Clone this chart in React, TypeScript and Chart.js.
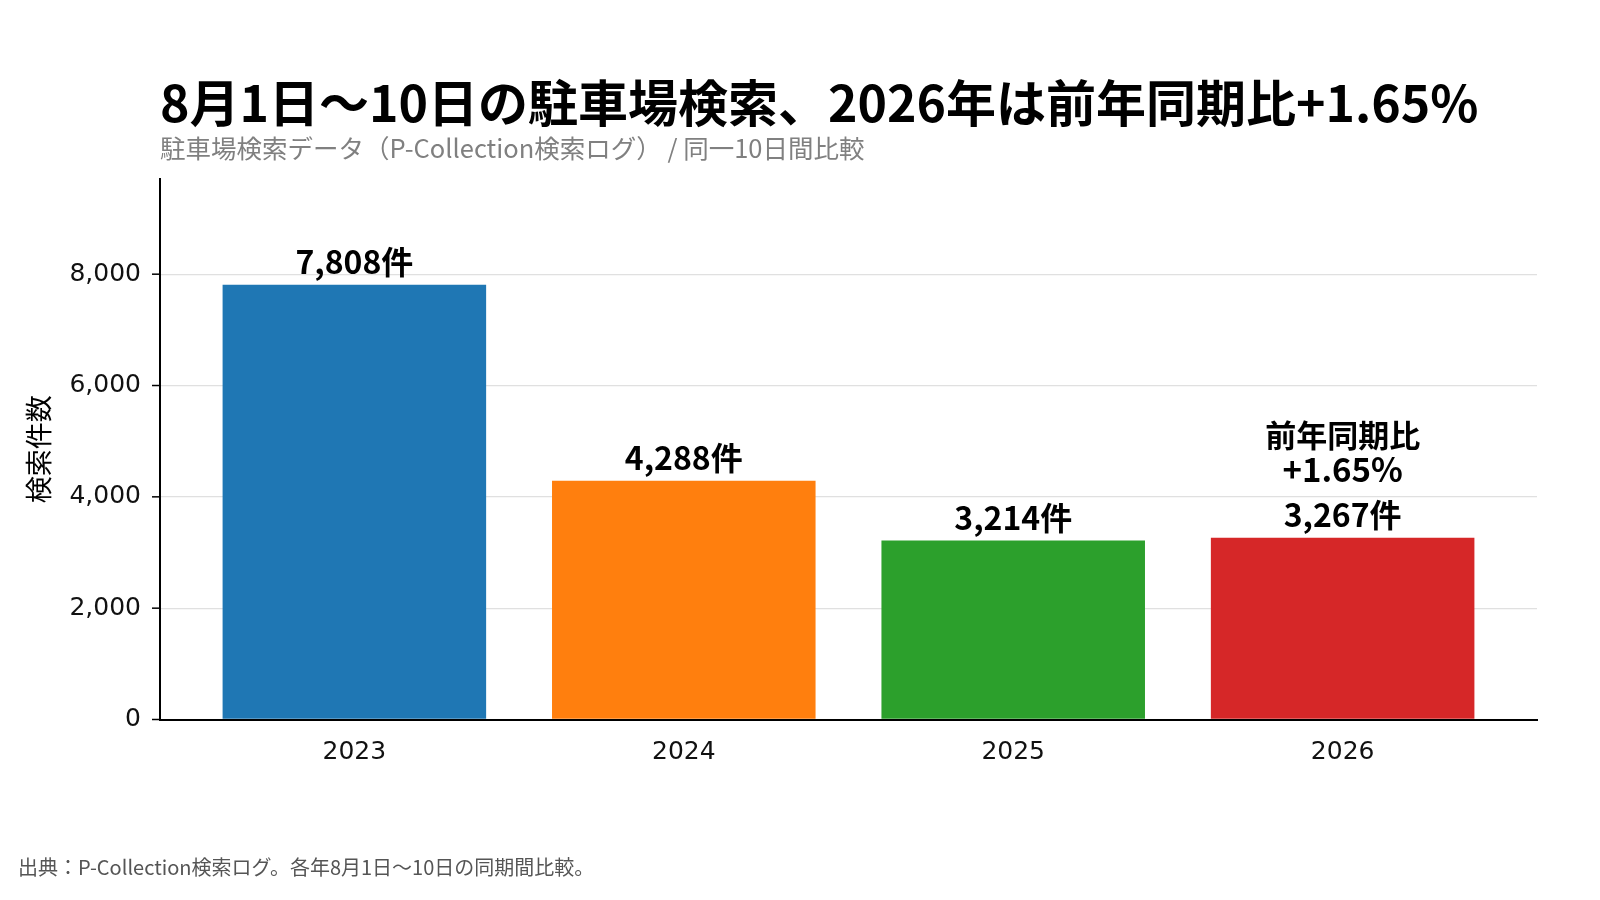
import React, { useEffect, useRef } from "react";
import { Chart, registerables } from "chart.js";

Chart.register(...registerables);

const years = ["2023", "2024", "2025", "2026"];
const searchCounts = [7808, 4288, 3214, 3267];
const barColors = ["#1f77b4", "#ff7f0e", "#2ca02c", "#d62728"];
const yTicks = [0, 2000, 4000, 6000, 8000];
const yMax = 9710;

const titleText = "8月1日〜10日の駐車場検索、2026年は前年同期比+1.65%";
const subtitleText = "駐車場検索データ（P-Collection検索ログ） / 同一10日間比較";
const footerText = "出典：P-Collection検索ログ。各年8月1日〜10日の同期間比較。";
const yAxisTitle = "検索件数";
const annotationLabel = "前年同期比";

const JP = '"Noto Sans CJK JP", "Noto Sans", sans-serif';
const NUM = '"DejaVu Sans", sans-serif';

const textPlugin = {
  id: "textPlugin",
  afterDatasetsDraw(chart: any) {
    const ctx = chart.ctx;
    const meta = chart.getDatasetMeta(0);
    ctx.save();
    ctx.fillStyle = "#000";
    ctx.textAlign = "center";
    ctx.textBaseline = "alphabetic";
    ctx.font = `700 32px ${JP}`;
    meta.data.forEach((bar: any, i: number) => {
      const v = searchCounts[i];
      ctx.fillText(v.toLocaleString("en-US") + "件", bar.x, bar.y - 11);
    });
    const last = searchCounts.length - 1;
    const lastBar = meta.data[last];
    const pct = (searchCounts[last] / searchCounts[last - 1] - 1) * 100;
    ctx.font = `700 31px ${JP}`;
    ctx.fillText(annotationLabel, lastBar.x, lastBar.y - 91);
    ctx.font = `700 33px ${JP}`;
    ctx.fillText((pct >= 0 ? "+" : "") + pct.toFixed(2) + "%", lastBar.x, lastBar.y - 56);
    ctx.restore();
  },
  afterDraw(chart: any) {
    const ctx = chart.ctx;
    ctx.save();
    ctx.textAlign = "left";
    ctx.textBaseline = "alphabetic";
    ctx.fillStyle = "#000";
    ctx.font = `700 50px ${JP}`;
    ctx.fillText(titleText, 160, 122);
    ctx.fillStyle = "#808080";
    ctx.font = `400 25.5px ${JP}`;
    ctx.fillText(subtitleText, 160, 158);
    ctx.fillStyle = "#555555";
    ctx.font = `400 20px ${JP}`;
    ctx.fillText(footerText, 18, 875);
    ctx.restore();
  },
};

export default function App() {
  const ref = useRef<HTMLCanvasElement | null>(null);
  useEffect(() => {
    if (!ref.current) return;
    const chart = new Chart(ref.current, {
      type: "bar",
      data: {
        datasets: [
          {
            data: searchCounts.map((v, i) => ({ x: i, y: v })),
            backgroundColor: barColors,
            borderWidth: 0,
            barPercentage: 0.8,
            categoryPercentage: 1.0,
          },
        ],
      },
      options: {
        animation: false,
        responsive: false,
        devicePixelRatio: 1,
        layout: { padding: { top: 179, right: 63, left: 0, bottom: 0 } },
        plugins: {
          legend: { display: false },
          tooltip: { enabled: false },
          title: { display: false },
        },
        scales: {
          x: {
            type: "linear",
            min: -0.59,
            max: 3.59,
            offset: false,
            grid: { display: false, drawTicks: true, tickLength: 8, tickColor: "#000", tickWidth: 1.5 } as any,
            border: { display: true, color: "#000", width: 2 },
            afterBuildTicks: (scale: any) => {
              scale.ticks = years.map((_, i) => ({ value: i }));
            },
            afterFit: (scale: any) => {
              scale.height = 900 - 719.5;
            },
            ticks: {
              autoSkip: false,
              maxRotation: 0,
              padding: 10,
              color: "#111",
              font: { family: NUM, size: 25 },
              callback: (v: any) => years[Math.round(Number(v))] ?? "",
            },
          },
          y: {
            min: 0,
            max: yMax,
            afterBuildTicks: (scale: any) => {
              scale.ticks = yTicks.map((v) => ({ value: v }));
            },
            afterFit: (scale: any) => {
              scale.width = 160;
            },
            grid: {
              color: (c: any) => (c.tick && c.tick.value === 0 ? "rgba(0,0,0,0)" : "#e0e0e0"),
              lineWidth: 1.3,
              drawTicks: false,
            },
            border: { display: true, color: "#000", width: 2 },
            ticks: {
              padding: 19,
              color: "#111",
              font: { family: NUM, size: 25 },
              callback: (v: any) => Number(v).toLocaleString("en-US"),
            },
            title: {
              display: true,
              text: yAxisTitle,
              color: "#000",
              font: { family: JP, size: 27 },
              padding: { top: 23, bottom: 0 },
            },
          },
        },
      },
      plugins: [
        textPlugin,
        {
          id: "yTickMarks",
          afterDraw(chart: any) {
            const y = chart.scales.y;
            const ctx = chart.ctx;
            ctx.save();
            ctx.strokeStyle = "#000";
            ctx.lineWidth = 1.5;
            y.ticks.forEach((t: any) => {
              const py = y.getPixelForValue(t.value);
              ctx.beginPath();
              ctx.moveTo(y.right - 8, py);
              ctx.lineTo(y.right, py);
              ctx.stroke();
            });
            ctx.restore();
          },
        },
      ],
    } as any);
    return () => chart.destroy();
  }, []);
  return (
    <div style={{ position: "absolute", left: 0, top: 0, width: 1600, height: 900, background: "#fff" }}>
      <canvas ref={ref} width={1600} height={900} />
    </div>
  );
}
